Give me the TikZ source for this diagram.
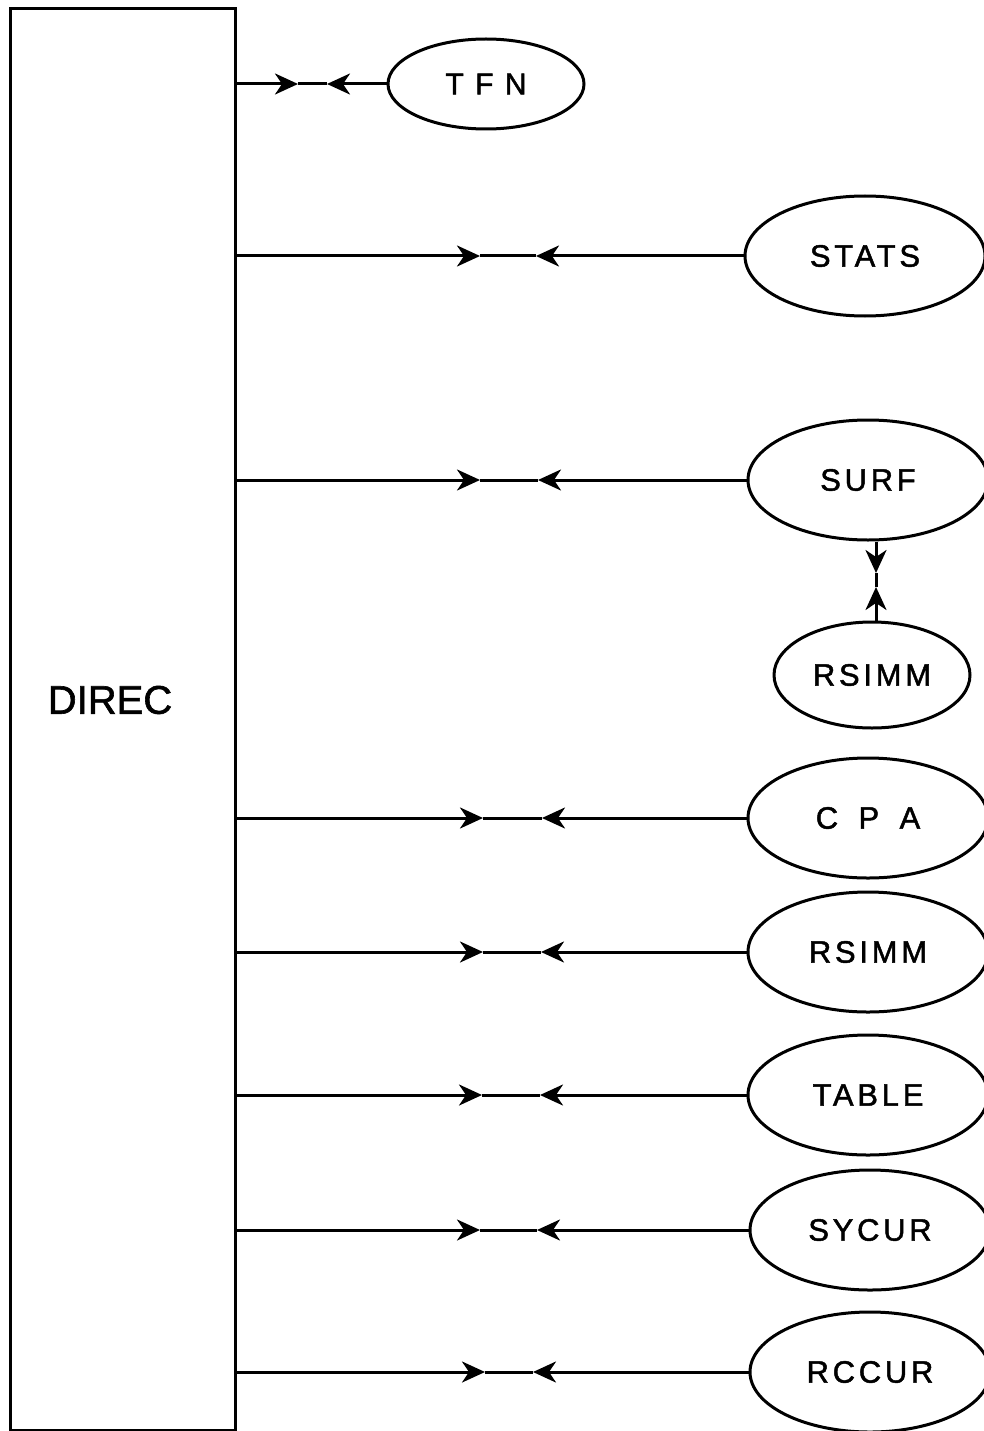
\documentclass[tikz,border=0pt]{standalone}
\usepackage{fontspec}
\setmainfont{Liberation Sans}
\newfontfamily\lblfont[LetterSpace=12,FakeBold=1.5]{Liberation Sans}
\newfontfamily\widefont[LetterSpace=38,FakeBold=1.5]{Liberation Sans}
\newfontfamily\mainlbl[FakeBold=1.5]{Liberation Sans}
\usetikzlibrary{arrows.meta,shapes.geometric}
\tikzset{
  x=1pt, y=-1pt,
  module/.style={ellipse, draw, line width=3pt, inner sep=0pt,
    minimum width=240pt, minimum height=120pt,
    font=\lblfont\fontsize{31}{34}\selectfont},
  link/.style={line width=3pt},
  tip/.style={line width=3pt, -{Stealth[length=23pt,width=21pt,inset=7pt]}},
}
\begin{document}
\begin{tikzpicture}
\useasboundingbox (0,0) rectangle (983,1431);
% main program block
\node[draw, line width=3.4pt, minimum width=225pt, minimum height=1422pt,
  inner sep=0pt, anchor=north west] (direc) at (9,7) {};
\node[font=\mainlbl\fontsize{40}{44}\selectfont] (dlabel) at (110,700) {DIREC};

% called modules
\node[module, minimum width=196pt, minimum height=90pt,
  font=\widefont\fontsize{30}{33}\selectfont] (tfn) at (486,84) {TFN};
\node[module] (stats) at (865,256) {STATS};
\node[module] (surf) at (868,480) {SURF};
\node[module, minimum width=196pt, minimum height=106pt] (rsimmA) at (872,675) {RSIMM};
\node[module, font=\widefont\fontsize{31}{34}\selectfont] (cpa) at (868,818) {C P A};
\node[module] (rsimmB) at (868,952) {RSIMM};
\node[module] (table) at (868,1095) {TABLE};
\node[module] (sycur) at (870,1230) {SYCUR};
\node[module] (rccur) at (870,1372) {RCCUR};

% TFN link
\coordinate (tfnR) at (298,84);
\coordinate (tfnL) at (327,84);
\draw[tip] (direc.east |- tfn.west) -- (tfnR);
\draw[link] (tfnR) -- (tfnL);
\draw[tip] (tfn.west) -- (tfnL);

% links from the block to each module
\foreach \m/\a/\b in {stats/480/536, surf/480/538, cpa/483/542, rsimmB/483/541,
                      table/482/540, sycur/480/537, rccur/485/533}{
  \coordinate (\m R) at (\a,0 |- \m.west);
  \coordinate (\m L) at (\b,0 |- \m.west);
  \draw[tip] (direc.east |- \m.west) -- (\m R);
  \draw[link] (\m R) -- (\m L);
  \draw[tip] (\m.west) -- (\m L);
}

% SURF -- RSIMM link
\coordinate (sD) at (876,573);
\coordinate (sU) at (876,587);
\draw[tip] (surf.south -| sD) -- (sD);
\draw[link] (sD) -- (sU);
\draw[tip] (rsimmA.north -| sU) -- (sU);
\end{tikzpicture}
\end{document}
